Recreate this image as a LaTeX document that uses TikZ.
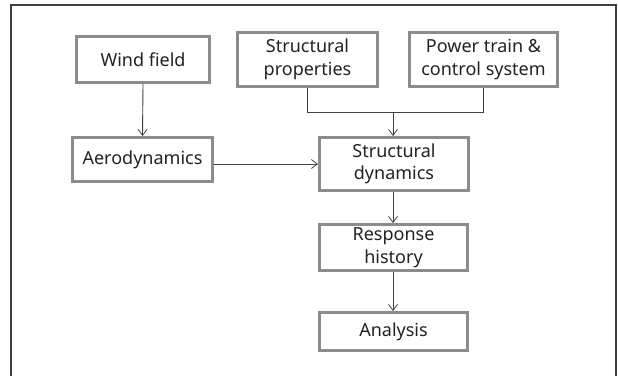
\documentclass[tikz,border=0pt]{standalone}
\usepackage{fontspec}
\setmainfont{Noto Sans}
\usetikzlibrary{arrows.meta}
\definecolor{boxgray}{HTML}{8C8C8C}
\definecolor{linegray}{HTML}{404040}
\definecolor{txt}{HTML}{222222}
\begin{document}
\begin{tikzpicture}[x=1pt,y=-1pt,
  stagebox/.style={draw=boxgray, line width=2.6pt, fill=white, align=center,
    inner sep=0pt, text=txt, font=\fontsize{18}{22.5}\selectfont},
  conn/.style={draw=linegray, line width=0.9pt},
  arr/.style={conn, -{Straight Barb[length=6pt,width=9pt,line width=0.8pt]}},
  frame/.style={draw=black!75, line width=1.4pt}]
\useasboundingbox (0,0) rectangle (618,376);
\draw[frame] (11,376) -- (11,5) -- (616,5) -- (616,376);
\node[stagebox, minimum width=133.4pt, minimum height=46.4pt] (wind) at (143,59.5) {Wind field};
\node[stagebox, minimum width=140.4pt, minimum height=44.4pt] (aero) at (142.5,159.5) {Aerodynamics};
\node[stagebox, minimum width=140.4pt, minimum height=54.4pt] (sp) at (307.5,59.5) {Structural\\properties};
\node[stagebox, minimum width=148.4pt, minimum height=54.4pt] (pt) at (483.5,59.5) {Power train \&\\control system};
\node[stagebox, minimum width=149.4pt, minimum height=53.4pt] (sd) at (394,164) {Structural\\dynamics};
\node[stagebox, minimum width=148.4pt, minimum height=46.4pt] (rh) at (393.5,247.5) {Response\\history};
\node[stagebox, minimum width=148.4pt, minimum height=38.4pt] (an) at (393.5,331.5) {Analysis};
\coordinate (j) at (393,112);
\draw[arr] (wind.south) -- (aero.north);
\draw[arr] (aero.east |- sd.west) -- (sd.west);
\draw[conn] (sp.south) -- (sp.south |- j) -| (pt.south);
\draw[arr] (j) -- (j |- sd.north);
\draw[arr] (sd.south -| j) -- (j |- rh.north);
\draw[arr] (rh.south -| j) -- (j |- an.north);
\end{tikzpicture}
\end{document}
